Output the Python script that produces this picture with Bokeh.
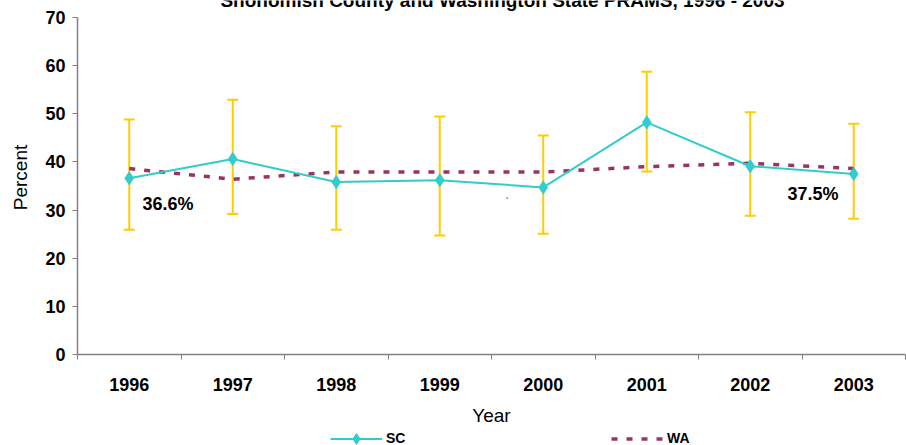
from bokeh.plotting import figure
from bokeh.layouts import column
from bokeh.models import (ColumnDataSource, Whisker, TeeHead, FixedTicker, Label,
                          Legend, LegendItem, Range1d)
from bokeh.embed import file_html
from bokeh.resources import INLINE

years = ["1996", "1997", "1998", "1999", "2000", "2001", "2002", "2003"]
sc = [36.6, 40.6, 35.8, 36.2, 34.7, 48.2, 39.1, 37.5]
sc_upper = [48.8, 52.9, 47.4, 49.4, 45.5, 58.7, 50.3, 47.9]
sc_lower = [25.9, 29.2, 25.9, 24.7, 25.1, 38.0, 28.8, 28.2]
wa = [38.6, 36.4, 37.9, 37.9, 37.9, 39.0, 39.7, 38.6]
y_ticks = [0, 10, 20, 30, 40, 50, 60, 70]

FONT = "Liberation Sans"
SC_COLOR = "#33CCCC"
WA_COLOR = "#993366"
ERR_COLOR = "#FFCC00"
xs = [i + 1 for i in range(len(years))]

src = ColumnDataSource(dict(x=xs, sc=sc, up=sc_upper, lo=sc_lower, wa=wa))

p = figure(width=906, height=428, output_backend="svg", toolbar_location=None,
           x_range=Range1d(0.5, len(years) + 0.5), y_range=Range1d(0, 73.51),
           min_border_left=77, min_border_right=1, min_border_top=0,
           min_border_bottom=72)
p.title.visible = False
p.outline_line_color = None
p.xgrid.visible = False
p.ygrid.visible = False
p.background_fill_color = "white"
p.border_fill_color = "white"

# error bars
wh = Whisker(source=src, base="x", upper="up", lower="lo",
             line_color=ERR_COLOR, line_width=2,
             upper_head=TeeHead(size=11, line_color=ERR_COLOR, line_width=2),
             lower_head=TeeHead(size=11, line_color=ERR_COLOR, line_width=2))
p.add_layout(wh)

p.line("x", "wa", source=src, line_color=WA_COLOR, line_width=3.5, line_dash="6 9")
p.line("x", "sc", source=src, line_color=SC_COLOR, line_width=2)
p.scatter("x", "sc", source=src, marker="diamond", size=13,
          fill_color=SC_COLOR, line_color=SC_COLOR)

# axes
ax = p.xaxis[0]
ax.ticker = FixedTicker(ticks=xs, minor_ticks=[x + 0.5 for x in range(len(years) + 1)])
ax.major_label_overrides = {x: y for x, y in zip(xs, years)}
ax.major_tick_line_color = None
ax.major_tick_out = 0
ax.major_tick_in = 0
ax.minor_tick_out = 5
ax.minor_tick_in = 0
ax.minor_tick_line_color = "#808080"
ax.axis_line_color = "#808080"
ax.axis_line_width = 1.5
ax.major_label_standoff = 18
ax.major_label_text_font = FONT
ax.major_label_text_font_style = "bold"
ax.major_label_text_font_size = "18px"
ax.major_label_text_color = "black"
ax.axis_label = "Year"
ax.axis_label_text_font = FONT
ax.axis_label_text_font_style = "normal"
ax.axis_label_text_font_size = "19px"
ax.axis_label_text_color = "black"
ax.axis_label_standoff = 11

ay = p.yaxis[0]
ay.ticker = FixedTicker(ticks=y_ticks)
ay.bounds = (0, 70)
ay.minor_tick_line_color = None
ay.major_tick_out = 5
ay.major_tick_in = 0
ay.major_tick_line_color = "#808080"
ay.axis_line_color = "#808080"
ay.axis_line_width = 1.5
ay.major_label_standoff = 7
ay.major_label_text_font = FONT
ay.major_label_text_font_style = "bold"
ay.major_label_text_font_size = "18px"
ay.major_label_text_color = "black"
ay.axis_label = "Percent"
ay.axis_label_text_font = FONT
ay.axis_label_text_font_style = "normal"
ay.axis_label_text_font_size = "19px"
ay.axis_label_text_color = "black"
ay.axis_label_standoff = 11

# annotations
p.add_layout(Label(x=1.128, y=31.2, text="36.6%", text_font=FONT,
                   text_font_style="bold", text_font_size="18px",
                   text_color="black", text_baseline="middle"))
p.add_layout(Label(x=7.36, y=33.3, text="37.5%", text_font=FONT,
                   text_font_style="bold", text_font_size="18px",
                   text_color="black", text_baseline="middle"))
p.add_layout(Label(x=4.635, y=31.6, text="`", text_font=FONT,
                   text_font_size="10px", text_color="black",
                   text_baseline="middle"))
p.add_layout(Label(x=4.606, y=73.55, text="Snohomish County and Washington State PRAMS, 1996 - 2003",
                   text_font=FONT, text_font_style="bold", text_font_size="19px",
                   text_color="black", text_align="center",
                   text_baseline="alphabetic"))

# legend strip
lg = figure(width=906, height=17, output_backend="svg", toolbar_location=None,
            x_range=Range1d(0, 1), y_range=Range1d(0, 1),
            min_border_left=77, min_border_right=1, min_border_top=0,
            min_border_bottom=0)
lg.axis.visible = False
lg.grid.visible = False
lg.outline_line_color = None
lg.title.visible = False
lg.border_fill_color = "white"
# sample sources placed outside the visible range; only their legend swatches show
swatch = ColumnDataSource(dict(x=[5, 6], y=[5, 5]))
r_sc_l = lg.line("x", "y", source=swatch, line_color=SC_COLOR, line_width=2)
r_sc_p = lg.scatter("x", "y", source=swatch, marker="diamond", size=13,
                    fill_color=SC_COLOR, line_color=SC_COLOR)
r_wa = lg.line("x", "y", source=swatch, line_color=WA_COLOR, line_width=3.5,
               line_dash="6 9")

common = dict(glyph_width=52, glyph_height=27, label_height=27,
              label_standoff=4, padding=0, margin=0, border_line_color=None,
              background_fill_alpha=0, label_text_font=FONT,
              label_text_font_style="bold", label_text_font_size="14px",
              label_text_color="black")
lg.add_layout(Legend(items=[LegendItem(label="SC", renderers=[r_sc_l, r_sc_p])],
                     location=(253, -6.5), **common))
lg.add_layout(Legend(items=[LegendItem(label="WA", renderers=[r_wa])],
                     location=(534, -6.5), **common))

layout = column(p, lg, spacing=0)
open("out.html", "w").write(file_html(layout, INLINE))
